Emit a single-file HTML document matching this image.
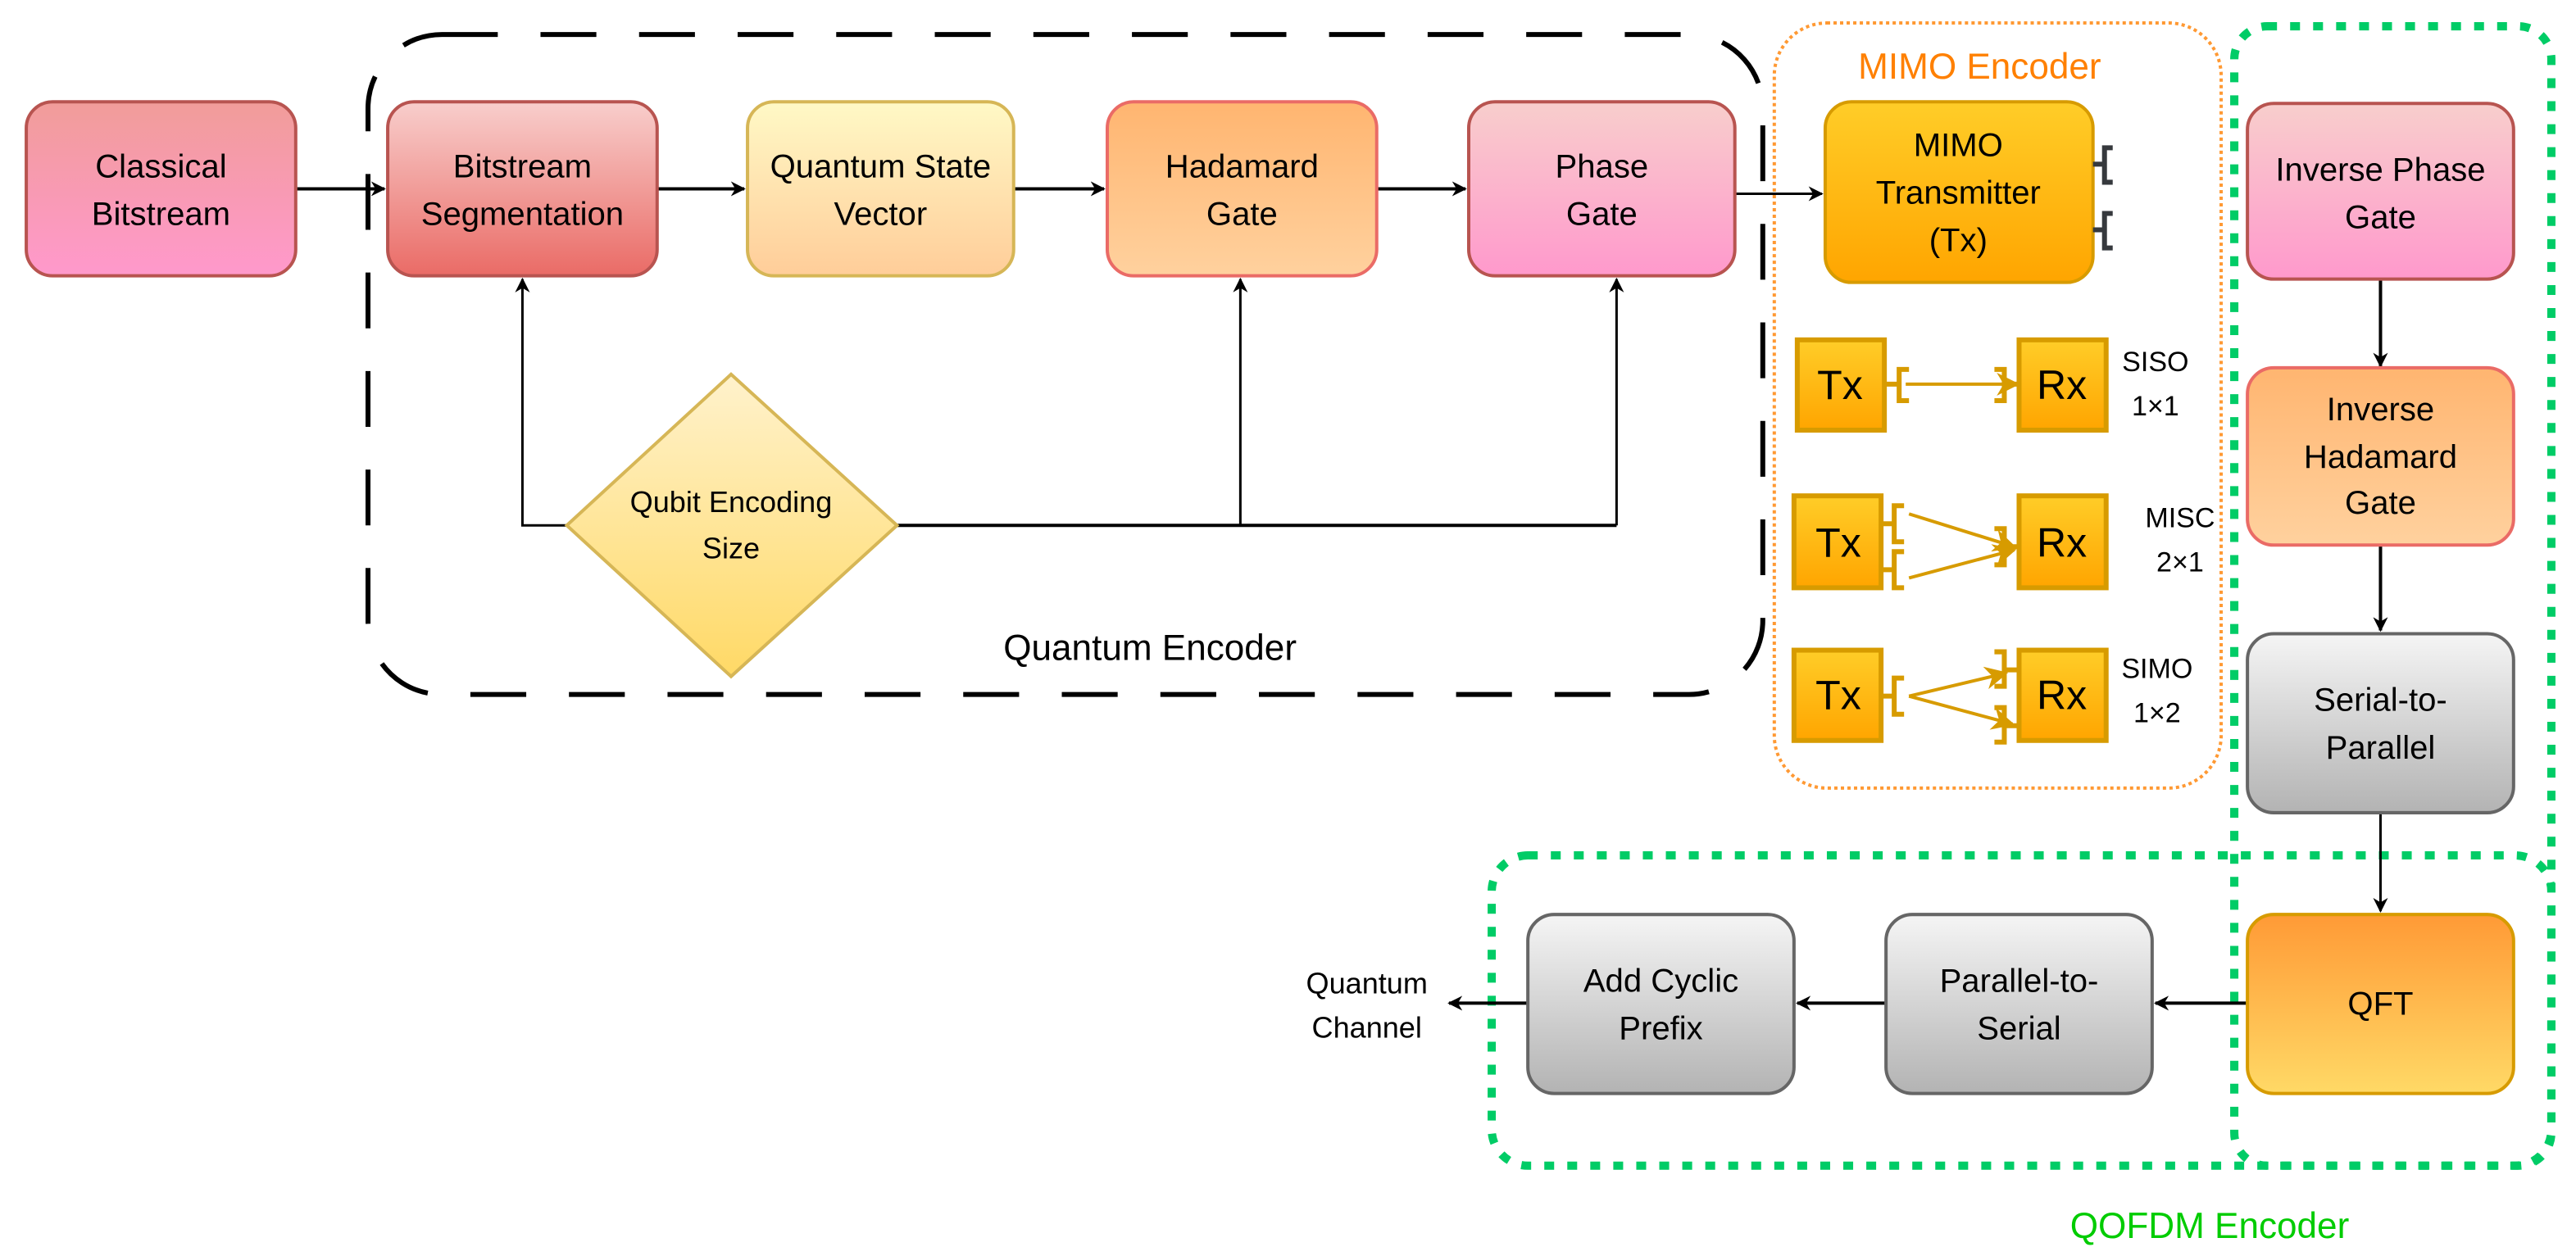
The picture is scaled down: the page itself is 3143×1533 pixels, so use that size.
<!DOCTYPE html>
<html><head><meta charset="utf-8"><style>
html,body{margin:0;padding:0;background:#fff;}
svg{display:block;}
text{font-family:"Liberation Sans",Arial,sans-serif;}
</style></head><body>
<svg width="3143" height="1533" viewBox="0 0 1568 765" preserveAspectRatio="none" xmlns="http://www.w3.org/2000/svg">
<defs>
<linearGradient id="gCl" x1="0" y1="0" x2="0" y2="1"><stop offset="0" stop-color="#f19c99"/><stop offset="1" stop-color="#ff99cc"/></linearGradient>
<linearGradient id="gSeg" x1="0" y1="0" x2="0" y2="1"><stop offset="0" stop-color="#f8cecc"/><stop offset="1" stop-color="#ea6b66"/></linearGradient>
<linearGradient id="gQs" x1="0" y1="0" x2="0" y2="1"><stop offset="0" stop-color="#fff9c6"/><stop offset="1" stop-color="#ffcd99"/></linearGradient>
<linearGradient id="gHad" x1="0" y1="0" x2="0" y2="1"><stop offset="0" stop-color="#ffb570"/><stop offset="1" stop-color="#ffd19e"/></linearGradient>
<linearGradient id="gPh" x1="0" y1="0" x2="0" y2="1"><stop offset="0" stop-color="#f8cecc"/><stop offset="1" stop-color="#ff99cc"/></linearGradient>
<linearGradient id="gDia" x1="0" y1="0" x2="0" y2="1"><stop offset="0" stop-color="#fff2cc"/><stop offset="1" stop-color="#ffd966"/></linearGradient>
<linearGradient id="gOr" x1="0" y1="0" x2="0" y2="1"><stop offset="0" stop-color="#ffcd28"/><stop offset="1" stop-color="#ffa500"/></linearGradient>
<linearGradient id="gGr" x1="0" y1="0" x2="0" y2="1"><stop offset="0" stop-color="#f5f5f5"/><stop offset="1" stop-color="#b3b3b3"/></linearGradient>
<linearGradient id="gQft" x1="0" y1="0" x2="0" y2="1"><stop offset="0" stop-color="#ff9a36"/><stop offset="1" stop-color="#ffd966"/></linearGradient>
<marker id="ar" viewBox="0 0 10 10" refX="9" refY="5" markerWidth="9" markerHeight="9" markerUnits="userSpaceOnUse" orient="auto"><path d="M0,0 L10,5 L0,10 L3,5 Z" fill="#000"/></marker>
<marker id="arO" viewBox="0 0 10 10" refX="9" refY="5" markerWidth="14" markerHeight="14" markerUnits="userSpaceOnUse" orient="auto"><path d="M0,0 L10,5 L0,10 L3,5 Z" fill="#d79b00"/></marker>
</defs>

<!-- Quantum encoder dashed container -->
<rect x="224" y="21" width="849" height="402" rx="45" fill="none" stroke="#000" stroke-width="3" stroke-dasharray="34,26"/>
<text x="700" y="402" font-size="22" text-anchor="middle">Quantum Encoder</text>

<!-- MIMO container -->
<rect x="1080" y="14" width="272" height="466" rx="32" fill="none" stroke="#ff9933" stroke-width="2" stroke-dasharray="2,2"/>
<text x="1205" y="48" font-size="22" fill="#ff8000" text-anchor="middle">MIMO Encoder</text>

<!-- QOFDM containers -->
<rect x="1360" y="16" width="193" height="694" rx="20" fill="none" stroke="#00cc66" stroke-width="5" stroke-dasharray="6,8"/>
<rect x="908" y="521" width="645" height="189" rx="22" fill="none" stroke="#00cc66" stroke-width="5" stroke-dasharray="6,8"/>
<text x="1345" y="754" font-size="22" fill="#00cc00" text-anchor="middle">QOFDM Encoder</text>

<!-- connectors -->
<g stroke="#000" stroke-width="2" fill="none">
<line x1="180" y1="115" x2="234" y2="115" marker-end="url(#ar)"/>
<line x1="400" y1="115" x2="453" y2="115" marker-end="url(#ar)"/>
<line x1="617" y1="115" x2="672" y2="115" marker-end="url(#ar)"/>
<line x1="838" y1="115" x2="892" y2="115" marker-end="url(#ar)"/>
<line x1="1056" y1="118" x2="1109" y2="118" marker-end="url(#ar)" stroke-width="1.5"/>
<polyline points="345,320 318,320 318,170" stroke-width="1.5" marker-end="url(#ar)"/>
<line x1="546" y1="320" x2="984" y2="320" stroke-width="2"/>
<line x1="755" y1="320" x2="755" y2="170" stroke-width="1.5" marker-end="url(#ar)"/>
<line x1="984" y1="320" x2="984" y2="170" stroke-width="1.5" marker-end="url(#ar)"/>
<line x1="1449" y1="170" x2="1449" y2="223" marker-end="url(#ar)"/>
<line x1="1449" y1="332" x2="1449" y2="384" marker-end="url(#ar)"/>
<line x1="1449" y1="495" x2="1449" y2="555" stroke-width="1.5" marker-end="url(#ar)"/>
<line x1="1368" y1="611" x2="1312" y2="611" marker-end="url(#ar)"/>
<line x1="1148" y1="611" x2="1094" y2="611" marker-end="url(#ar)"/>
<line x1="930" y1="611" x2="882" y2="611" marker-end="url(#ar)"/>
</g>

<!-- top row boxes -->
<g stroke-width="2">
<rect x="16" y="62" width="164" height="106" rx="16" fill="url(#gCl)" stroke="#b85450"/>
<rect x="236" y="62" width="164" height="106" rx="16" fill="url(#gSeg)" stroke="#b85450"/>
<rect x="455" y="62" width="162" height="106" rx="16" fill="url(#gQs)" stroke="#d6b656"/>
<rect x="674" y="62" width="164" height="106" rx="16" fill="url(#gHad)" stroke="#ea6b66"/>
<rect x="894" y="62" width="162" height="106" rx="16" fill="url(#gPh)" stroke="#b85450"/>
<polygon points="445,228 546,320 445,412 345,320" fill="url(#gDia)" stroke="#d6b656"/>
</g>
<g font-size="20" text-anchor="middle">
<text x="98" y="108">Classical</text><text x="98" y="137">Bitstream</text>
<text x="318" y="108">Bitstream</text><text x="318" y="137">Segmentation</text>
<text x="536" y="108">Quantum State</text><text x="536" y="137">Vector</text>
<text x="756" y="108">Hadamard</text><text x="756" y="137">Gate</text>
<text x="975" y="108">Phase</text><text x="975" y="137">Gate</text>
<text x="445" y="312" font-size="18">Qubit Encoding</text><text x="445" y="340" font-size="18">Size</text>
</g>

<!-- MIMO transmitter -->
<rect x="1111" y="62" width="163" height="110" rx="16" fill="url(#gOr)" stroke="#d79b00" stroke-width="2"/>
<g font-size="20" text-anchor="middle">
<text x="1192" y="95">MIMO</text><text x="1192" y="124">Transmitter</text><text x="1192" y="153">(Tx)</text>
</g>
<g fill="none" stroke="#36393d" stroke-width="3">
<path d="M1274,100 H1281 M1286,90 H1281 V111 H1286"/>
<path d="M1274,140 H1281 M1286,130 H1281 V151 H1286"/>
</g>

<!-- Tx/Rx diagrams -->
<g stroke="#d79b00" stroke-width="3" fill="url(#gOr)">
<rect x="1094" y="207" width="53" height="55"/><rect x="1229" y="207" width="53" height="55"/>
<rect x="1092" y="302" width="53" height="56"/><rect x="1229" y="302" width="53" height="56"/>
<rect x="1092" y="396" width="53" height="55"/><rect x="1229" y="396" width="53" height="55"/>
</g>
<g fill="none" stroke="#d79b00" stroke-width="3">
<path d="M1147,234 H1156 M1162,225 H1156 V244 H1162"/>
<path d="M1229,234 H1220 M1214,225 H1220 V244 H1214"/>
<path d="M1145,319 H1153 M1159,308 H1153 V330 H1159"/>
<path d="M1145,347 H1153 M1159,336 H1153 V358 H1159"/>
<path d="M1229,333 H1220 M1214,322 H1220 V344 H1214"/>
<path d="M1145,424 H1153 M1159,413 H1153 V435 H1159"/>
<path d="M1229,408 H1220 M1214,397 H1220 V418 H1214"/>
<path d="M1229,442 H1220 M1214,431 H1220 V452 H1214"/>
</g>
<g stroke="#d79b00" stroke-width="2" fill="none">
<line x1="1160" y1="234" x2="1228" y2="234" marker-end="url(#arO)"/>
<line x1="1162" y1="313" x2="1226" y2="333" marker-end="url(#arO)"/>
<line x1="1162" y1="352" x2="1226" y2="335" marker-end="url(#arO)"/>
<line x1="1162" y1="424" x2="1221" y2="410" marker-end="url(#arO)"/>
<line x1="1162" y1="424" x2="1225" y2="441" marker-end="url(#arO)"/>
</g>
<g font-size="25" text-anchor="middle">
<text x="1120" y="243">Tx</text><text x="1255" y="243">Rx</text>
<text x="1119" y="339">Tx</text><text x="1255" y="339">Rx</text>
<text x="1119" y="432">Tx</text><text x="1255" y="432">Rx</text>
</g>
<g font-size="17" text-anchor="middle">
<text x="1312" y="226">SISO</text><text x="1312" y="253">1×1</text>
<text x="1327" y="321">MISC</text><text x="1327" y="348">2×1</text>
<text x="1313" y="413">SIMO</text><text x="1313" y="440">1×2</text>
</g>

<!-- right column -->
<g stroke-width="2">
<rect x="1368" y="63" width="162" height="107" rx="16" fill="url(#gPh)" stroke="#b85450"/>
<rect x="1368" y="224" width="162" height="108" rx="16" fill="url(#gHad)" stroke="#ea6b66"/>
<rect x="1368" y="386" width="162" height="109" rx="16" fill="url(#gGr)" stroke="#666"/>
<rect x="1368" y="557" width="162" height="109" rx="16" fill="url(#gQft)" stroke="#d79b00"/>
<rect x="1148" y="557" width="162" height="109" rx="16" fill="url(#gGr)" stroke="#666"/>
<rect x="930" y="557" width="162" height="109" rx="16" fill="url(#gGr)" stroke="#666"/>
</g>
<g font-size="20" text-anchor="middle">
<text x="1449" y="110">Inverse Phase</text><text x="1449" y="139">Gate</text>
<text x="1449" y="256">Inverse</text><text x="1449" y="285">Hadamard</text><text x="1449" y="313">Gate</text>
<text x="1449" y="433">Serial-to-</text><text x="1449" y="462">Parallel</text>
<text x="1449" y="618">QFT</text>
<text x="1229" y="604">Parallel-to-</text><text x="1229" y="633">Serial</text>
<text x="1011" y="604">Add Cyclic</text><text x="1011" y="633">Prefix</text>
<text x="832" y="605" font-size="18">Quantum</text><text x="832" y="632" font-size="18">Channel</text>
</g>
</svg>
</body></html>
